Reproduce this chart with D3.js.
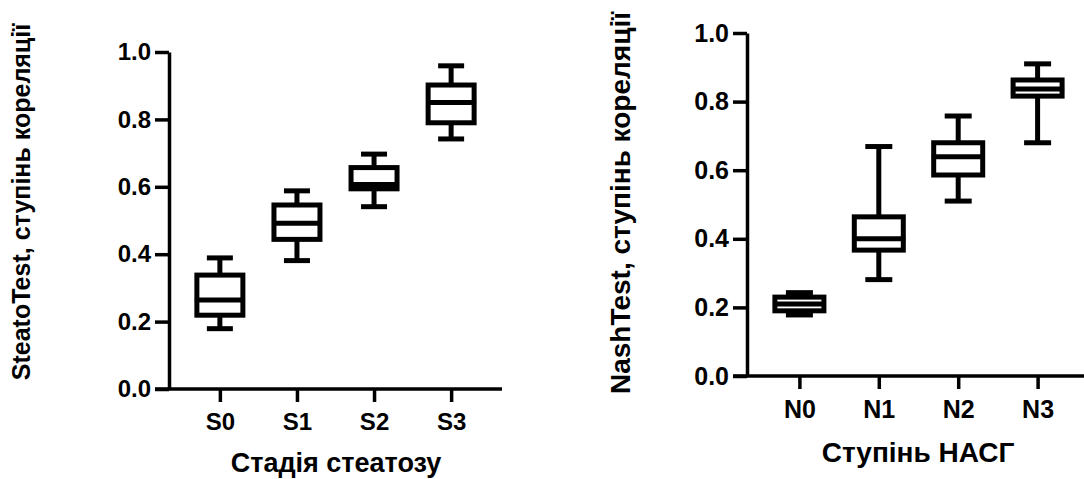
<!DOCTYPE html>
<html>
<head>
<meta charset="utf-8">
<script src="https://cdn.jsdelivr.net/npm/d3@7"></script>
<style>
  body { margin: 0; background: #fff; }
  text { font-family: Arial, "Liberation Sans", sans-serif; font-weight: bold; fill: #000; }
</style>
</head>
<body>
<svg id="chart" width="1084" height="479"></svg>
<script>
// values (box plots: min, q1, median, q3, max)
const steatoCats = ['S0', 'S1', 'S2', 'S3'];
const steatoMin = [0.179, 0.381, 0.541, 0.742];
const steatoQ1 = [0.219, 0.444, 0.594, 0.79];
const steatoMed = [0.264, 0.492, 0.607, 0.85];
const steatoQ3 = [0.338, 0.546, 0.657, 0.902];
const steatoMax = [0.389, 0.588, 0.697, 0.959];

const nashCats = ['N0', 'N1', 'N2', 'N3'];
const nashMin = [0.178, 0.281, 0.51, 0.68];
const nashQ1 = [0.19, 0.367, 0.586, 0.816];
const nashMed = [0.21, 0.40, 0.639, 0.837];
const nashQ3 = [0.23, 0.464, 0.68, 0.863];
const nashMax = [0.243, 0.669, 0.758, 0.91];

const yTicks = [0, 0.2, 0.4, 0.6, 0.8, 1.0];

const svg = d3.select('#chart');

function boxPanel(opts) {
    const x = d3.scalePoint()
        .domain(opts.cats)
        .range([opts.left, opts.right])
        .padding(0.66);
    const y = d3.scaleLinear().domain([0, 1]).range([opts.bottom, opts.top]);

    const g = svg.append('g');

    const yAxis = g.append('g')
        .attr('transform', `translate(${opts.left},0)`)
        .call(d3.axisLeft(y).tickValues(yTicks).tickFormat(d3.format('.1f'))
            .tickSize(14).tickPadding(4).tickSizeOuter(0));
    yAxis.select('.domain').attr('stroke-width', 3.5);
    yAxis.selectAll('.tick line').attr('stroke-width', 3.5);
    yAxis.selectAll('.tick text').style('font-size', opts.tickFont + 'px');

    const xAxis = g.append('g')
        .attr('transform', `translate(0,${opts.bottom})`)
        .call(d3.axisBottom(x).tickSize(13).tickPadding(11).tickSizeOuter(0));
    xAxis.select('.domain').attr('stroke-width', 3.5)
        .attr('d', `M${opts.left - 14},0H${opts.right}`);
    xAxis.selectAll('.tick line').attr('stroke-width', 3.5);
    xAxis.selectAll('.tick text').style('font-size', opts.tickFont + 'px');

    const rows = opts.cats.map((c, i) => ({
        cat: c, min: opts.min[i], q1: opts.q1[i], med: opts.med[i], q3: opts.q3[i], max: opts.max[i]
    }));

    const bw = opts.boxWidth;
    const cw = opts.capWidth;
    const box = g.selectAll('.box').data(rows).enter().append('g')
        .attr('class', 'box')
        .attr('stroke', '#000')
        .attr('stroke-width', 5)
        .attr('fill', 'none');

    // whiskers
    box.append('line')
        .attr('x1', d => x(d.cat)).attr('x2', d => x(d.cat))
        .attr('y1', d => y(d.max)).attr('y2', d => y(d.q3));
    box.append('line')
        .attr('x1', d => x(d.cat)).attr('x2', d => x(d.cat))
        .attr('y1', d => y(d.q1)).attr('y2', d => y(d.min));
    box.append('line')
        .attr('x1', d => x(d.cat) - cw / 2).attr('x2', d => x(d.cat) + cw / 2)
        .attr('y1', d => y(d.max)).attr('y2', d => y(d.max));
    box.append('line')
        .attr('x1', d => x(d.cat) - cw / 2).attr('x2', d => x(d.cat) + cw / 2)
        .attr('y1', d => y(d.min)).attr('y2', d => y(d.min));

    box.append('rect')
        .attr('x', d => x(d.cat) - bw / 2)
        .attr('width', bw)
        .attr('y', d => y(d.q3))
        .attr('height', d => y(d.q1) - y(d.q3))
        .attr('fill', '#fff');

    box.append('line')
        .attr('x1', d => x(d.cat) - bw / 2 - 2).attr('x2', d => x(d.cat) + bw / 2 + 2)
        .attr('y1', d => y(d.med)).attr('y2', d => y(d.med));

    g.append('text')
        .attr('x', opts.xTitleX).attr('y', opts.xTitleY)
        .attr('text-anchor', 'middle')
        .style('font-size', opts.xTitleFont + 'px')
        .text(opts.xTitle);

    g.append('text')
        .attr('transform', `translate(${opts.yTitleX},${opts.yTitleY}) rotate(-90)`)
        .attr('text-anchor', 'middle')
        .style('font-size', opts.yTitleFont + 'px')
        .text(opts.yTitle);
}

boxPanel({
    cats: steatoCats, min: steatoMin, q1: steatoQ1, med: steatoMed, q3: steatoQ3, max: steatoMax,
    left: 169, right: 502, top: 52, bottom: 389,
    boxWidth: 46, capWidth: 26, tickFont: 24,
    xTitle: 'Стадія стеатозу', xTitleX: 336, xTitleY: 472, xTitleFont: 27,
    yTitle: 'SteatoTest, ступінь кореляції', yTitleX: 30, yTitleY: 202, yTitleFont: 25
});

boxPanel({
    cats: nashCats, min: nashMin, q1: nashQ1, med: nashMed, q3: nashQ3, max: nashMax,
    left: 747, right: 1090, top: 33, bottom: 376,
    boxWidth: 49, capWidth: 27, tickFont: 25,
    xTitle: 'Ступінь НАСГ', xTitleX: 918, xTitleY: 462, xTitleFont: 28,
    yTitle: 'NashTest, ступінь кореляції', yTitleX: 630, yTitleY: 203, yTitleFont: 28
});
</script>
</body>
</html>
